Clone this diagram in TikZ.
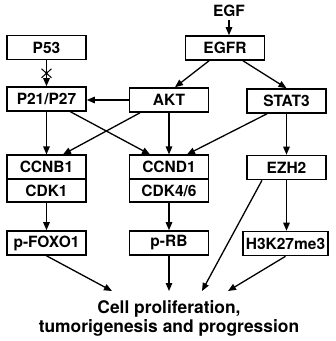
\documentclass[tikz,border=0pt]{standalone}
\usepackage{fontspec}
\setmainfont{TeX Gyre Heros}
\usetikzlibrary{arrows.meta,shapes.misc}
\tikzset{box/.style={draw,line width=1.6pt,minimum width=79pt,minimum height=24pt,inner xsep=3pt,font=\fontsize{15.5}{18}\selectfont\bfseries},
  halfbox/.style={box,minimum height=23.5pt},
  arr/.style={line width=1.3pt,-{Triangle[length=8pt,width=6.5pt]}}}

\begin{document}
\begin{tikzpicture}[x=1pt,y=-1pt]
\useasboundingbox (0,0) rectangle (336,341);

\node[font=\fontsize{15.5}{18}\selectfont\bfseries] (egf) at (229,11) {EGF};
\node[box] (egfr) at (225,48) {EGFR};
\node[box] (p53) at (46.5,47.5) {P53};
\node[box] (p21) at (46.5,99) {P21/P27};
\node[box] (akt) at (169,100) {AKT};
\node[box] (stat3) at (286.5,101) {STAT3};

\node[halfbox] (ccnb1) at (46.5,167) {CCNB1};
\node[halfbox] (cdk1) at (46.5,190.5) {CDK1};
\node[halfbox] (ccnd1) at (169,167) {CCND1};
\node[halfbox] (cdk46) at (169,190.5) {CDK4/6};
\node[box] (ezh2) at (286.5,167.5) {EZH2};

\node[box] (pfoxo1) at (46.5,243) {p-FOXO1};
\node[box] (prb) at (169,243) {p-RB};
\node[box] (h3k) at (285.5,243.5) {H3K27me3};

\node[anchor=north,align=center,inner ysep=9pt,font=\fontsize{17.4}{19}\selectfont\bfseries] (cell) at (169,291) {Cell proliferation,\\tumorigenesis and progression};

\draw[arr] (egf.south) -- (egf.south |- egfr.north);
\draw[arr] (p53) -- (p21) node[midway,draw,cross out,line width=1pt,minimum width=9pt,minimum height=8pt,inner sep=0pt] (blk) {};
\draw[arr] (akt.west) -- (akt.west -| p21.east);
\draw[arr] ([xshift=-16]egfr.south) -- ([xshift=6]akt.north);
\draw[arr] ([xshift=18]egfr.south) -- (stat3.north);

\draw[arr] (p21) -- (ccnb1);
\draw[arr] ([xshift=24]p21.south) -- ([xshift=-19]ccnd1.north);
\draw[arr] ([xshift=-29]akt.south) -- ([xshift=16.5]ccnb1.north);
\draw[arr] (akt) -- (ccnd1);
\draw[arr] ([xshift=-19.5]stat3.south) -- ([xshift=18]ccnd1.north);
\draw[arr] (stat3) -- (ezh2);

\draw[arr] (cdk1) -- (pfoxo1);
\draw[arr] (cdk46) -- (prb);
\draw[arr] (ezh2.south) -- (ezh2.south |- h3k.north);

\draw[arr] (pfoxo1.south) -- ([xshift=-57]cell.north);
\draw[arr] (prb.south) -- (cell.north);
\draw[arr] ([xshift=-24.5]ezh2.south) -- ([xshift=33]cell.north);
\draw[arr] (h3k.south) -- ([xshift=59]cell.north);

\end{tikzpicture}
\end{document}
